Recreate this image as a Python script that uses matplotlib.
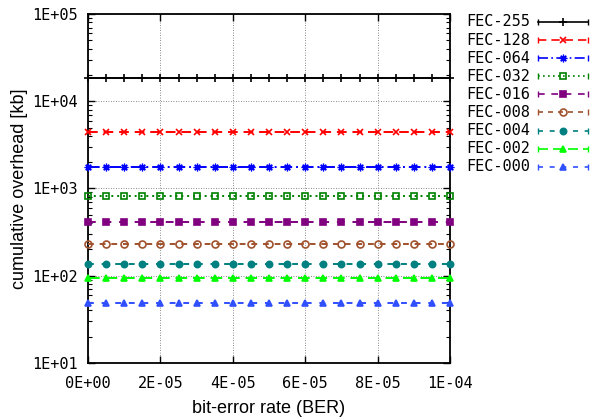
import numpy as np
import matplotlib
matplotlib.use("Agg")
import matplotlib.pyplot as plt
from matplotlib.lines import Line2D
from matplotlib.ticker import FixedLocator, LogLocator, NullFormatter

# ---- data ----
ber = [i * 5e-6 for i in range(21)]
series_names = ["FEC-255", "FEC-128", "FEC-064", "FEC-032", "FEC-016",
                "FEC-008", "FEC-004", "FEC-002", "FEC-000"]
series_values = [18500, 4440, 1765, 820, 413, 231, 136, 94, 48.8]
x_ticks = [0, 2e-5, 4e-5, 6e-5, 8e-5, 1e-4]
x_tick_labels = ["0E+00", "2E-05", "4E-05", "6E-05", "8E-05", "1E-04"]
y_ticks = [1e1, 1e2, 1e3, 1e4, 1e5]
y_tick_labels = ["1E+01", "1E+02", "1E+03", "1E+04", "1E+05"]

# ---- styles ----
styles = [
    dict(color="#000000", ls="-", marker="+", mfc="none", ms=6, mew=1.2),
    dict(color="#ff0000", ls=(0, (5, 3)), marker="x", mfc="none", ms=4.5, mew=1.2),
    dict(color="#0000ff", ls=(0, (6, 2, 1, 2)), marker=(8, 2, 0), mfc="#0000ff", ms=5.5, mew=0.9),
    dict(color="#008000", ls=(0, (1, 2)), marker="s", mfc="none", ms=4.5, mew=1.2),
    dict(color="#800080", ls=(0, (4, 4)), marker="s", mfc="#800080", ms=5, mew=1.2),
    dict(color="#a0522d", ls=(0, (3, 3)), marker="o", mfc="none", ms=5, mew=1.2),
    dict(color="#008080", ls=(0, (3, 4)), marker="o", mfc="#008080", ms=4.5, mew=1.2),
    dict(color="#00ff00", ls=(0, (6, 3)), marker="^", mfc="#00ff00", ms=5, mew=1.2),
    dict(color="#3050ff", ls=(0, (3, 4)), marker="^", mfc="#3050ff", ms=4.5, mew=1.2),
]

mono = "DejaVu Sans Mono"
sans = "Liberation Sans"

fig = plt.figure(figsize=(5.96, 4.19), dpi=100)
ax = fig.add_axes([88/596, 1 - 363/419, (450-88)/596, (363-14)/419])

for name, val, st in zip(series_names, series_values, styles):
    ax.plot(ber, [val] * len(ber), color=st["color"], ls=st["ls"], lw=1.4,
            marker=st["marker"], mfc=st["mfc"], mec=st["color"], ms=st["ms"],
            mew=st["mew"], label=name, clip_on=False, zorder=3)

ax.set_yscale("log")
ax.set_xlim(0, 1e-4)
ax.set_ylim(1e1, 1e5)
ax.xaxis.set_major_locator(FixedLocator(x_ticks))
ax.set_xticklabels(x_tick_labels, fontfamily=mono, fontsize=11)
ax.yaxis.set_major_locator(FixedLocator(y_ticks))
ax.set_yticklabels(y_tick_labels, fontfamily=mono, fontsize=11)
ax.yaxis.set_minor_locator(LogLocator(base=10, subs=np.arange(2, 10)))
ax.yaxis.set_minor_formatter(NullFormatter())
ax.tick_params(which="both", direction="in", top=True, right=True)
ax.tick_params(axis="x", which="major", length=5, width=1, pad=9)
ax.tick_params(axis="y", which="major", length=5, width=1, pad=7)
ax.tick_params(which="minor", length=3, width=0.8)
ax.grid(True, which="major", color="#666666", ls=(0, (1, 2)), lw=0.6)
for sp in ax.spines.values():
    sp.set_linewidth(1.3)

ax.set_xlabel("bit-error rate (BER)", fontfamily=sans, fontsize=13, labelpad=7)
ax.set_ylabel("cumulative overhead [kb]", fontfamily=sans, fontsize=13, labelpad=3)

# ---- legend (gnuplot-style, outside right) ----
y0 = 22
dy = 18.1
for i, (name, st) in enumerate(zip(series_names, styles)):
    yy = 1 - (y0 + i * dy) / 419
    fig.text(530/596, yy, name, fontfamily=mono, fontsize=11, ha="right", va="center")
    x1, x2 = 538/596, 588/596
    fig.add_artist(Line2D([x1, x2], [yy, yy], transform=fig.transFigure,
                          color=st["color"], ls=st["ls"], lw=1.2))
    fig.add_artist(Line2D([(x1 + x2) / 2], [yy], transform=fig.transFigure,
                          color=st["color"], marker=st["marker"], mfc=st["mfc"],
                          mec=st["color"], ms=st["ms"], mew=st["mew"], ls="none"))
    for xe in (x1, x2):
        fig.add_artist(Line2D([xe], [yy], transform=fig.transFigure,
                              color=st["color"], marker="|", ms=5, mew=1.0, ls="none"))

fig.savefig("out.png", dpi=100)
